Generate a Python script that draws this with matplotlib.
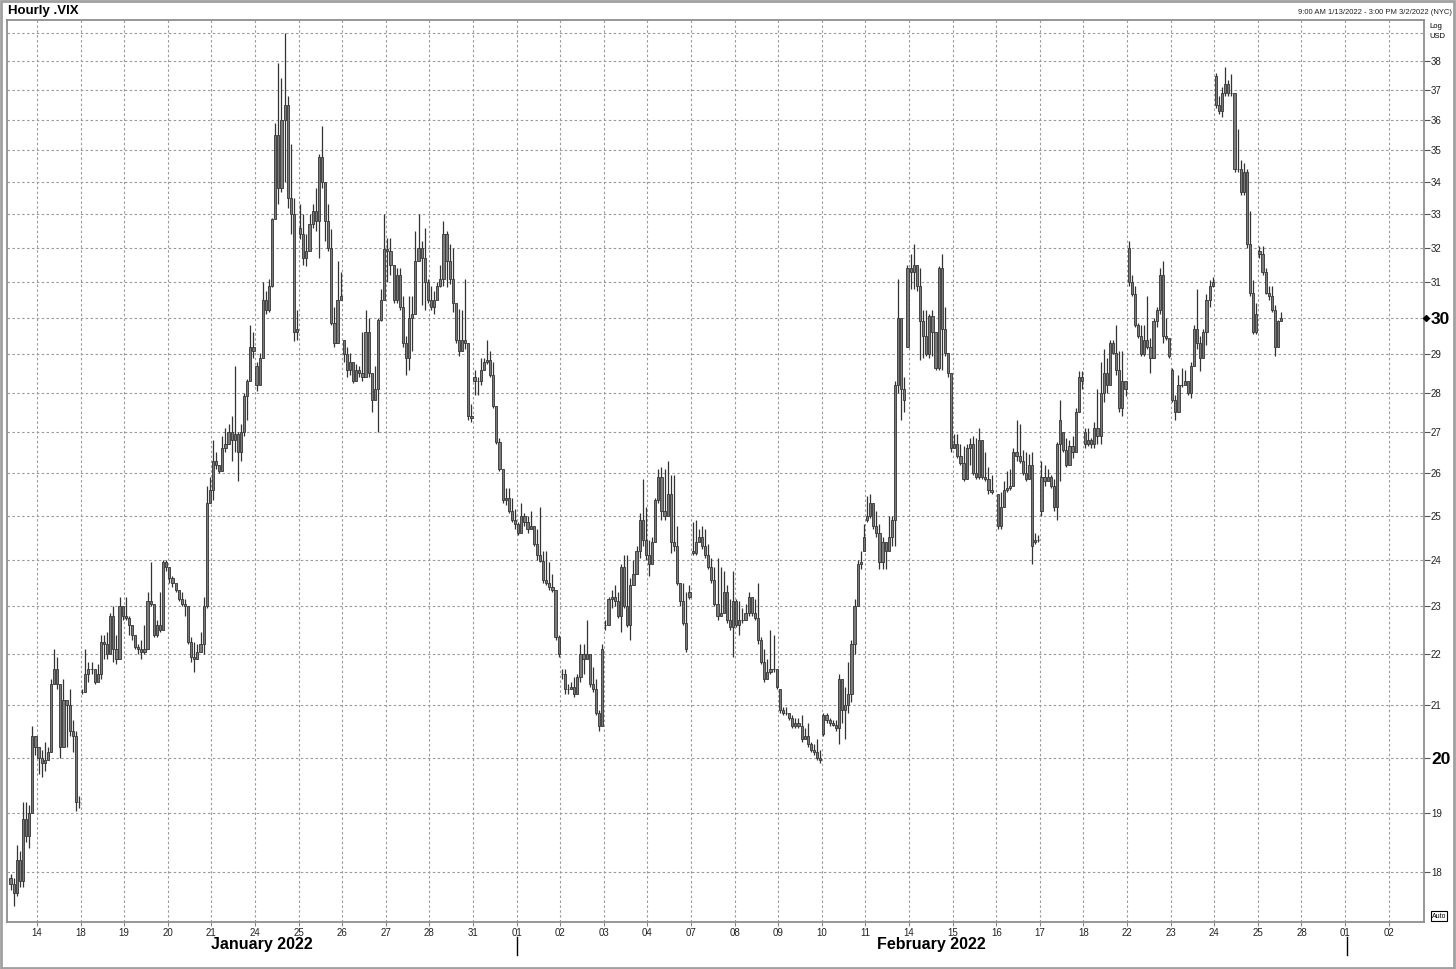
import numpy as np
import matplotlib
matplotlib.use("Agg")
import matplotlib.pyplot as plt
from matplotlib.lines import Line2D
from matplotlib.patches import Rectangle
import matplotlib.transforms as mtransforms

plt.rcParams['font.family'] = ['Liberation Sans', 'DejaVu Sans']

# trading days shown on the axis (index 0 = Jan 13, not labelled)
day_labels = ["14", "18", "19", "20", "21", "24", "25", "26", "27", "28", "31",
              "01", "02", "03", "04", "07", "08", "09", "10", "11", "14", "15",
              "16", "17", "18", "22", "23", "24", "25", "28", "01", "02"]

# hourly bars, one inner list per trading day (Jan 13 .. Feb 25)
opens = [
    [17.9, 17.8, 17.65, 18.2, 17.85, 18.9, 18.6, 19.0, 20.4],
    [20.2, 20.0, 19.9, 19.95, 20.1, 21.4, 21.7, 21.4, 20.2, 21.1, 21.0, 20.5, 20.4, 19.2],
    [21.25, 21.25, 21.6, 21.7, 21.7, 21.45, 21.6, 22.25, 22.2, 22.0, 22.8, 22.1, 21.9, 23.0],
    [22.8, 22.75, 22.6, 22.4, 22.15, 22.1, 22.05, 22.1, 23.1, 23.05, 22.4, 22.6, 22.5, 23.95],
    [23.85, 23.6, 23.5, 23.35, 23.15, 23.05, 23.0, 22.25, 21.95, 21.9, 22.05, 22.2, 23.0, 25.3],
    [25.6, 26.3, 26.2, 26.05, 26.6, 26.7, 27.0, 26.8, 26.95, 26.5, 27.0, 27.9, 28.3, 29.2],
    [28.7, 28.2, 28.9, 30.5, 30.2, 30.9, 32.85, 35.5, 33.8, 36.0, 36.5, 33.5, 33.0, 29.6],
    [32.6, 32.4, 31.7, 31.9, 32.7, 33.1, 32.8, 34.8, 34.0, 32.8, 32.0, 29.85, 29.3, 30.5],
    [29.4, 29.0, 28.6, 28.8, 28.3, 28.6, 28.5, 28.4, 29.6, 28.5, 27.8, 28.1, 29.95, 30.5],
    [31.95, 31.9, 31.5, 30.5, 31.2, 30.3, 29.3, 28.9, 30.0, 30.1, 31.6, 32.0, 31.7, 31.0],
    [30.5, 30.3, 30.5, 30.9, 31.1, 32.4, 31.6, 31.1, 30.4, 29.4, 29.1, 29.4, 29.3, 27.4],
    [28.4, 28.3, 28.3, 28.6, 28.8, 28.85, 28.45, 27.65, 26.75, 26.1, 25.35, 25.4, 25.1, 24.9],
    [24.8, 24.6, 25.0, 24.85, 24.7, 24.75, 24.35, 24.1, 23.97, 23.55, 23.5, 23.4, 23.35, 22.35],
    [21.6, 21.6, 21.3, 21.3, 21.35, 21.2, 21.55, 22.0, 21.9, 22.0, 21.4, 21.3, 20.85, 20.6],
    [22.6, 22.6, 23.15, 23.2, 23.1, 22.8, 23.85, 23.0, 22.6, 23.45, 23.7, 24.2, 24.9, 24.45],
    [24.1, 23.9, 24.4, 25.35, 25.9, 25.1, 25.0, 25.5, 24.4, 24.3, 23.5, 23.1, 22.65, 23.3],
    [24.2, 24.15, 24.4, 24.5, 24.3, 24.1, 23.85, 23.55, 23.05, 22.8, 22.85, 23.3, 22.7, 22.55],
    [23.1, 22.6, 22.7, 22.7, 22.85, 23.2, 22.85, 22.75, 22.3, 21.85, 21.5, 21.65, 21.7, 21.7],
    [21.3, 20.9, 20.85, 20.85, 20.75, 20.6, 20.65, 20.6, 20.35, 20.4, 20.25, 20.15, 20.1, 20.0],
    [20.45, 20.8, 20.7, 20.65, 20.62, 20.55, 21.5, 20.9, 21.0, 21.2, 22.2, 23.0, 23.9, 24.2],
    [24.9, 25.0, 25.3, 24.75, 24.6, 23.95, 24.4, 24.2, 24.5, 24.9, 28.2, 30.0, 28.1, 29.2],
    [31.4, 31.3, 31.5, 30.9, 29.9, 29.5, 29.0, 30.05, 29.6, 28.65, 31.4, 29.7, 29.05, 28.5],
    [26.6, 26.7, 26.4, 26.25, 25.85, 26.6, 26.7, 26.0, 25.9, 26.8, 25.9, 25.85, 25.6],
    [25.5, 24.75, 25.2, 25.6, 25.65, 25.7, 26.5, 26.4, 26.3, 26.0, 25.85, 26.2, 24.4, 24.45],
    [25.1, 25.9, 25.8, 25.9, 25.7, 25.2, 26.7, 27.0, 26.55, 26.2, 26.65, 26.5, 27.5, 28.4],
    [27.0, 26.7, 26.8, 26.7, 27.1, 26.9, 28.0, 28.5, 28.2, 29.3, 29.05, 28.6, 27.6, 28.3],
    [32.0, 31.0, 30.65, 29.8, 29.5, 29.0, 29.4, 29.2, 28.9, 29.9, 30.2, 31.2, 29.5, 29.45],
    [28.6, 27.8, 27.5, 28.2, 28.2, 28.3, 28.0, 28.7, 29.7, 29.3, 28.9, 29.6, 30.5, 30.9],
    [37.5, 36.5, 36.3, 36.9, 37.2, 36.9, 36.9, 34.4, 34.4, 33.7, 34.3, 32.1, 30.7, 29.6],
    [31.9, 31.8, 31.3, 30.7, 30.6, 30.2, 29.2, 29.9],
]
highs = [
    [17.97, 17.9, 18.45, 18.35, 19.2, 19.2, 19.15, 20.6, 20.4],
    [20.2, 20.15, 20.3, 20.2, 21.5, 22.1, 21.95, 21.4, 21.5, 21.1, 21.3, 20.7, 20.5, 19.3],
    [21.3, 22.1, 21.85, 21.85, 21.7, 21.8, 22.4, 22.4, 22.45, 22.85, 23.0, 22.4, 23.2, 23.0],
    [23.2, 22.8, 22.6, 22.4, 22.2, 22.3, 22.6, 23.3, 23.95, 23.05, 22.7, 23.3, 24.0, 24.0],
    [23.85, 23.65, 23.5, 23.35, 23.3, 23.15, 23.0, 22.35, 22.25, 22.2, 22.45, 23.2, 25.7, 25.9],
    [26.8, 26.5, 26.2, 26.9, 27.1, 27.2, 27.4, 28.7, 27.0, 27.2, 28.0, 28.35, 29.8, 29.6],
    [28.8, 29.05, 31.0, 30.75, 31.1, 32.9, 35.9, 37.95, 37.4, 39.0, 36.8, 35.2, 33.5, 30.2],
    [33.3, 33.0, 32.4, 33.0, 33.3, 33.8, 34.9, 35.8, 34.0, 33.3, 32.55, 30.3, 31.6, 31.3],
    [29.4, 29.2, 29.05, 28.8, 28.75, 28.7, 29.6, 30.2, 30.0, 28.5, 28.7, 30.0, 30.8, 33.0],
    [32.3, 32.3, 31.5, 31.4, 31.4, 30.6, 29.5, 30.6, 30.6, 32.5, 33.0, 32.2, 32.6, 31.1],
    [30.9, 30.75, 31.0, 31.5, 32.8, 32.5, 32.1, 32.0, 30.4, 30.25, 30.2, 31.1, 29.3, 27.7],
    [28.6, 28.4, 28.9, 28.9, 29.4, 29.1, 28.8, 27.65, 26.85, 26.1, 25.65, 25.65, 25.4, 25.15],
    [24.85, 25.3, 25.05, 25.0, 25.1, 24.75, 24.7, 25.2, 24.2, 24.2, 23.95, 23.7, 23.35, 22.4],
    [21.7, 21.7, 21.4, 21.45, 21.55, 21.6, 22.2, 22.2, 22.7, 22.0, 21.75, 21.5, 20.9, 22.2],
    [22.7, 23.2, 23.35, 23.45, 23.3, 23.9, 24.1, 24.1, 23.6, 24.0, 24.3, 25.05, 25.85, 25.2],
    [24.45, 24.5, 25.4, 26.1, 26.15, 26.1, 26.3, 25.95, 25.95, 24.75, 23.5, 23.5, 23.3, 23.45],
    [24.85, 24.9, 24.7, 24.75, 24.7, 24.35, 24.05, 23.85, 24.05, 23.85, 23.75, 23.45, 23.15, 23.75],
    [23.15, 23.1, 22.95, 23.05, 23.3, 23.2, 23.15, 23.5, 22.35, 22.1, 21.9, 22.5, 22.4, 21.7],
    [21.3, 20.95, 20.95, 20.85, 20.8, 20.75, 20.75, 20.8, 20.55, 20.65, 20.3, 20.25, 20.35, 20.15],
    [20.85, 20.85, 20.75, 20.7, 20.7, 21.6, 21.4, 21.35, 21.85, 22.3, 23.15, 24.0, 24.2, 24.8],
    [25.45, 25.5, 25.15, 25.1, 24.8, 24.5, 24.4, 25.0, 25.0, 28.3, 31.1, 30.0, 28.4, 31.5],
    [31.8, 32.1, 31.5, 31.4, 30.2, 30.2, 30.1, 30.2, 29.6, 31.45, 31.8, 30.3, 29.05, 28.5],
    [26.95, 26.95, 26.7, 26.65, 26.7, 26.85, 26.9, 26.85, 27.1, 26.8, 26.5, 26.15, 25.95],
    [25.5, 25.55, 25.8, 26.05, 26.1, 26.6, 27.3, 27.2, 26.55, 26.5, 26.45, 26.5, 24.6, 24.55],
    [26.3, 26.2, 26.1, 25.95, 25.85, 26.75, 27.8, 27.0, 26.85, 26.8, 26.9, 27.6, 28.55, 28.55],
    [27.1, 27.1, 26.85, 27.25, 28.1, 28.8, 29.15, 28.9, 29.4, 29.4, 29.8, 29.1, 29.1, 28.3],
    [32.2, 31.2, 30.9, 29.85, 29.8, 29.8, 30.6, 29.45, 30.0, 30.3, 31.4, 31.6, 30.0, 29.45],
    [28.65, 27.95, 28.45, 28.65, 28.6, 28.3, 28.8, 29.8, 30.8, 29.5, 29.7, 30.65, 31.05, 31.15],
    [37.6, 36.8, 37.1, 37.8, 37.35, 37.55, 36.9, 35.7, 34.7, 34.6, 34.4, 33.1, 31.05, 30.4],
    [32.05, 32.05, 31.4, 30.9, 30.9, 30.35, 29.95, 30.15],
]
lows = [
    [17.7, 17.45, 17.6, 17.75, 17.75, 18.5, 18.4, 19.0, 20.05],
    [19.7, 19.65, 19.75, 19.95, 20.1, 21.4, 21.3, 20.0, 20.2, 20.2, 20.4, 20.1, 19.05, 19.1],
    [21.2, 21.25, 21.45, 21.6, 21.4, 21.45, 21.5, 21.9, 21.9, 22.0, 21.85, 21.8, 21.9, 22.7],
    [22.7, 22.4, 22.3, 22.1, 22.0, 21.9, 22.0, 22.1, 23.0, 22.35, 22.35, 22.45, 22.5, 23.75],
    [23.5, 23.4, 23.3, 23.1, 23.0, 22.8, 22.2, 21.85, 21.65, 21.9, 22.05, 22.0, 22.95, 25.3],
    [25.35, 26.1, 26.0, 26.05, 26.5, 26.9, 26.3, 26.5, 25.8, 26.3, 26.9, 27.3, 28.3, 28.9],
    [28.05, 28.2, 28.9, 30.1, 30.15, 30.85, 32.85, 33.3, 33.7, 34.0, 33.2, 32.4, 29.35, 29.4],
    [32.25, 31.5, 31.45, 31.9, 32.6, 32.5, 31.7, 33.8, 32.2, 31.9, 29.8, 29.2, 29.3, 30.5],
    [28.8, 28.4, 28.45, 28.25, 28.3, 28.4, 28.3, 28.4, 28.4, 27.5, 27.8, 27.0, 29.9, 30.5],
    [31.0, 31.2, 30.4, 30.4, 30.2, 29.2, 28.45, 28.6, 29.1, 30.1, 31.6, 30.35, 30.2, 30.4],
    [30.2, 30.1, 30.5, 30.85, 30.9, 30.85, 30.95, 30.15, 29.3, 28.95, 29.1, 29.15, 27.3, 27.25],
    [27.95, 27.95, 28.2, 28.6, 28.75, 28.4, 27.6, 26.7, 26.05, 25.3, 25.25, 25.05, 24.85, 24.7],
    [24.55, 24.6, 24.75, 24.6, 24.7, 24.3, 24.0, 23.95, 23.5, 23.45, 23.35, 23.3, 22.3, 21.95],
    [21.5, 21.2, 21.2, 21.3, 21.15, 21.2, 21.45, 21.6, 21.9, 21.35, 21.25, 20.8, 20.5, 20.6],
    [22.5, 22.6, 22.95, 23.0, 22.75, 22.45, 22.95, 22.55, 22.3, 23.45, 23.7, 24.05, 24.3, 24.0],
    [23.65, 23.9, 24.4, 25.3, 24.9, 24.9, 25.0, 24.15, 24.2, 23.45, 23.0, 22.6, 22.05, 23.15],
    [24.1, 24.1, 24.4, 24.25, 24.05, 23.8, 23.5, 23.0, 22.7, 22.8, 23.2, 22.65, 22.5, 21.95],
    [22.55, 22.4, 22.65, 22.7, 22.8, 22.8, 22.7, 22.2, 21.8, 21.45, 21.5, 21.6, 21.65, 21.3],
    [20.85, 20.8, 20.8, 20.7, 20.55, 20.55, 20.55, 20.3, 20.35, 20.2, 20.1, 20.05, 19.95, 19.9],
    [20.4, 20.65, 20.6, 20.6, 20.5, 20.25, 20.65, 20.35, 20.85, 21.05, 22.0, 23.0, 23.8, 24.2],
    [24.85, 24.95, 24.7, 24.5, 23.8, 23.8, 23.8, 24.2, 24.3, 24.3, 28.0, 27.3, 27.5, 29.2],
    [30.8, 30.8, 30.75, 28.85, 28.9, 28.95, 28.9, 28.95, 28.6, 28.6, 28.6, 28.95, 28.4, 26.5],
    [26.6, 26.35, 26.2, 25.8, 25.85, 26.2, 25.95, 25.85, 25.85, 25.85, 25.8, 25.5, 25.5],
    [24.7, 24.7, 25.2, 25.55, 25.6, 25.7, 26.3, 26.25, 25.95, 25.8, 25.85, 23.9, 24.35, 24.4],
    [25.0, 25.7, 25.8, 25.65, 25.1, 24.9, 25.8, 26.5, 26.15, 26.2, 26.35, 26.5, 27.5, 28.1],
    [26.6, 26.65, 26.6, 26.6, 26.7, 26.7, 27.75, 28.0, 28.2, 29.0, 28.45, 27.5, 27.4, 27.9],
    [30.9, 30.6, 29.75, 29.45, 28.95, 28.95, 29.15, 28.5, 28.9, 29.75, 30.1, 29.3, 29.4, 28.9],
    [27.75, 27.3, 27.5, 28.15, 28.2, 27.95, 27.85, 28.7, 29.15, 28.55, 28.9, 29.25, 30.3, 30.85],
    [36.4, 36.2, 36.1, 36.8, 36.8, 36.8, 34.3, 34.3, 33.6, 33.6, 32.0, 30.6, 29.55, 29.55],
    [31.7, 31.2, 30.65, 30.5, 30.15, 28.95, 29.2, 29.9],
]
closes = [
    [17.8, 17.65, 18.2, 17.85, 18.9, 18.6, 19.0, 20.4, 20.2],
    [20.0, 19.9, 19.95, 20.1, 21.4, 21.7, 21.4, 20.2, 21.1, 21.0, 20.5, 20.4, 19.2, 19.2],
    [21.25, 21.6, 21.7, 21.7, 21.45, 21.6, 22.25, 22.2, 22.0, 22.8, 22.1, 21.9, 23.0, 22.8],
    [22.75, 22.6, 22.4, 22.15, 22.1, 22.05, 22.1, 23.1, 23.05, 22.4, 22.6, 22.5, 23.95, 23.85],
    [23.6, 23.5, 23.35, 23.15, 23.05, 23.0, 22.25, 21.95, 21.9, 22.05, 22.2, 23.0, 25.3, 25.6],
    [26.3, 26.2, 26.05, 26.6, 26.7, 27.0, 26.8, 26.95, 26.5, 27.0, 27.9, 28.3, 29.2, 29.1],
    [28.2, 28.9, 30.5, 30.2, 30.9, 32.85, 35.5, 33.8, 36.0, 36.5, 33.5, 33.0, 29.6, 29.7],
    [32.4, 31.7, 31.9, 32.7, 33.1, 32.8, 34.8, 34.0, 32.8, 32.0, 29.85, 29.3, 30.5, 30.6],
    [29.0, 28.6, 28.8, 28.3, 28.6, 28.5, 28.4, 29.6, 28.5, 27.8, 28.1, 29.95, 30.5, 31.95],
    [31.9, 31.5, 30.5, 31.2, 30.3, 29.3, 28.9, 30.0, 30.1, 31.6, 32.0, 31.7, 31.0, 30.5],
    [30.3, 30.5, 30.9, 31.1, 32.4, 31.6, 31.1, 30.4, 29.4, 29.1, 29.4, 29.3, 27.4, 27.35],
    [28.3, 28.3, 28.6, 28.8, 28.85, 28.45, 27.65, 26.75, 26.1, 25.35, 25.4, 25.1, 24.9, 24.8],
    [24.6, 25.0, 24.85, 24.7, 24.75, 24.35, 24.1, 23.97, 23.55, 23.5, 23.4, 23.35, 22.35, 22.0],
    [21.6, 21.3, 21.3, 21.35, 21.2, 21.55, 22.0, 21.9, 22.0, 21.4, 21.3, 20.85, 20.6, 22.1],
    [22.6, 23.15, 23.2, 23.1, 22.8, 23.85, 23.0, 22.6, 23.45, 23.7, 24.2, 24.9, 24.45, 24.1],
    [23.9, 24.4, 25.35, 25.9, 25.1, 25.0, 25.5, 24.4, 24.3, 23.5, 23.1, 22.65, 22.1, 23.2],
    [24.15, 24.4, 24.5, 24.3, 24.1, 23.85, 23.55, 23.05, 22.8, 22.85, 23.3, 22.7, 22.55, 23.1],
    [22.6, 22.7, 22.7, 22.85, 23.2, 22.85, 22.75, 22.3, 21.85, 21.5, 21.65, 21.7, 21.7, 21.35],
    [20.9, 20.85, 20.85, 20.75, 20.6, 20.65, 20.6, 20.35, 20.4, 20.25, 20.15, 20.1, 20.0, 19.95],
    [20.8, 20.7, 20.65, 20.62, 20.55, 21.5, 20.9, 21.0, 21.2, 22.2, 23.0, 23.9, 23.95, 24.5],
    [25.0, 25.3, 24.75, 24.6, 23.95, 24.4, 24.2, 24.5, 24.9, 28.2, 30.0, 28.1, 27.8, 31.4],
    [31.3, 31.5, 30.9, 29.9, 29.5, 29.0, 30.05, 29.6, 28.65, 31.4, 29.7, 29.05, 28.5, 26.6],
    [26.7, 26.4, 26.25, 25.85, 26.6, 26.7, 26.0, 25.9, 26.8, 25.9, 25.85, 25.6, 25.55],
    [24.75, 25.2, 25.6, 25.65, 25.7, 26.5, 26.4, 26.3, 26.0, 25.85, 26.2, 24.3, 24.45, 24.45],
    [25.9, 25.8, 25.9, 25.7, 25.2, 26.7, 27.3, 26.55, 26.2, 26.65, 26.5, 27.5, 28.4, 28.3],
    [26.7, 26.8, 26.7, 27.1, 26.9, 28.0, 28.5, 28.2, 29.3, 29.05, 28.6, 27.6, 28.3, 28.1],
    [31.0, 30.65, 29.8, 29.5, 29.0, 29.4, 29.2, 28.9, 29.9, 30.2, 31.2, 29.5, 29.45, 28.95],
    [27.8, 27.5, 28.2, 28.2, 28.3, 28.0, 28.7, 29.7, 29.3, 28.9, 29.6, 30.5, 30.9, 31.0],
    [36.5, 36.3, 36.9, 37.2, 36.9, 36.9, 34.4, 34.4, 33.7, 34.3, 32.1, 30.7, 29.6, 30.1],
    [31.8, 31.3, 30.7, 30.6, 30.2, 29.2, 29.9, 30.0],
]

# bar positions: 14 hourly slots per trading day, Jan 13 starts at 9:00
xs = []
for d, day in enumerate(closes):
    start = 5 if d == 0 else 0
    for j in range(len(day)):
        xs.append(d + (start + j + 0.5) / 14)
xs = np.array(xs)
o = np.concatenate([np.array(v) for v in opens])
h = np.concatenate([np.array(v) for v in highs])
l = np.concatenate([np.array(v) for v in lows])
c = np.concatenate([np.array(v) for v in closes])
top = np.maximum.reduce([o, h, l, c])
bot = np.minimum.reduce([o, h, l, c])

W, H = 1456, 969
fig = plt.figure(figsize=(W / 100, H / 100), dpi=100)
ax = fig.add_axes([7 / W, 1 - 922 / H, (1424 - 7) / W, (922 - 20) / H])

ax.vlines(xs, bot, top, color='#333333', lw=0.9, zorder=3)
body_lo = np.minimum(o, c)
body_hi = np.maximum(o, c)
ax.bar(xs, body_hi - body_lo, bottom=body_lo, width=0.05, color='#7a7a7a',
       edgecolor='#333333', linewidth=0.6, zorder=4)

ax.set_yscale('log')
ax.set_ylim(17.19, 39.47)
ax.set_xlim(0.312, 32.81)

yt = list(range(18, 39))
ax.set_yticks(yt)
ax.yaxis.set_minor_locator(matplotlib.ticker.NullLocator())
ax.set_yticklabels([str(v) for v in yt])
ax.yaxis.tick_right()
ax.tick_params(axis='y', which='major', length=4, width=0.8, color='#555555',
               labelsize=7, pad=1, labelcolor='#222222')
for lab in ax.get_yticklabels():
    if lab.get_text() in ('20', '30'):
        lab.set_fontsize(12.5)
        lab.set_fontweight('bold')
        lab.set_color('black')

ax.set_xticks(np.arange(1, 33))
ax.set_xticklabels(day_labels)
ax.tick_params(axis='x', length=3, width=0.8, color='#888888', labelsize=7,
               pad=1.5, labelcolor='#222222')

grid_style = dict(color='#9a9a9a', linestyle=(0, (2.2, 2.2)), linewidth=0.8)
ax.grid(True, **grid_style)
ax.axhline(39, zorder=0, **grid_style)
ax.set_axisbelow(True)
for sp in ax.spines.values():
    sp.set_color('#8f8f8f')
    sp.set_linewidth(1.3)

# last price marker
trans = mtransforms.blended_transform_factory(ax.transAxes, ax.transData)
ax.plot([1.0015], [30.0], marker='D', ms=3, color='black', transform=trans,
        clip_on=False, zorder=5)

# texts around the chart
fig.text(8 / W, 1 - 11 / H, 'Hourly .VIX', fontsize=9.5, fontweight='bold',
         ha='left', va='center')
fig.text(1452 / W, 1 - 12 / H, '9:00 AM 1/13/2022 - 3:00 PM 3/2/2022 (NYC)',
         fontsize=5.5, ha='right', va='center', color='#222222')
fig.text(1429 / W, 1 - 26 / H, 'Log', fontsize=5.5, ha='left', va='center')
fig.text(1429 / W, 1 - 37 / H, 'USD', fontsize=5.5, ha='left', va='center')
fig.text(262 / W, 1 - 944 / H, 'January 2022', fontsize=11.5, fontweight='bold',
         ha='center', va='center')
fig.text(931 / W, 1 - 944 / H, 'February 2022', fontsize=11.5, fontweight='bold',
         ha='center', va='center')
fig.text(1439 / W, 1 - 916 / H, 'Auto', fontsize=5, ha='center', va='center',
         bbox=dict(boxstyle='square,pad=0.15', fc='white', ec='black', lw=0.8))

for xm in (517, 1347):
    fig.add_artist(Line2D([xm / W, xm / W], [1 - 937 / H, 1 - 955 / H],
                          color='black', lw=1))

fig.add_artist(Rectangle((0.0005, 0.001), 0.998, 0.998, fill=False,
                         ec='#a0a0a0', lw=2, transform=fig.transFigure))

fig.savefig('out.png', dpi=100)
